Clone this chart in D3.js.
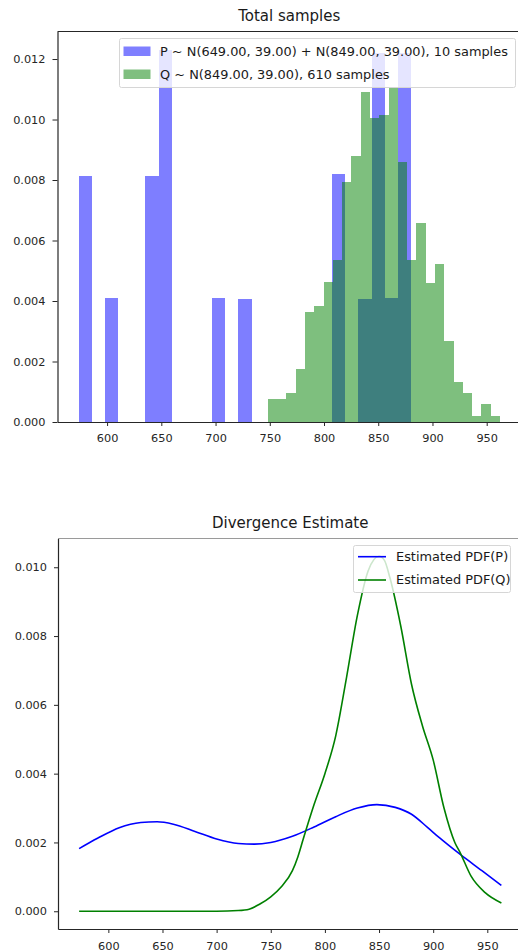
<!DOCTYPE html>
<html>
<head>
<meta charset="utf-8">
<script src="https://cdn.jsdelivr.net/npm/d3@7"></script>
<style>
  html, body { margin: 0; padding: 0; background: #fff; }
  svg { display: block; font-family: "DejaVu Sans", sans-serif; }
  .axis text { fill: #262626; font-size: 11.3px; font-family: "DejaVu Sans", sans-serif; }
  .axis line, .axis path { stroke: #262626; }
</style>
</head>
<body>
<svg id="chart" width="518" height="952"></svg>
<script>
// Histogram of P: bin edges and sample counts per bin
const pEdges = [573.7, 586.0, 598.3, 610.5, 622.8, 635.1, 647.4, 659.6, 671.9, 684.2, 696.5,
  708.7, 721.0, 733.3, 745.6, 757.9, 770.1, 782.4, 794.7, 807.0, 819.2, 831.5, 843.8,
  856.1, 868.3, 880.6];
const pCounts = [2, 0, 1, 0, 0, 2, 3, 0, 0, 0, 1, 0, 1, 0, 0, 0, 0, 0, 0, 2, 0, 1, 3, 1, 3];

// Histogram of Q: bin edges and sample counts per bin
const qEdges = [748.2, 756.8, 765.3, 773.9, 782.4, 791.0, 799.6, 808.1, 816.7, 825.2, 833.8,
  842.4, 850.9, 859.5, 868.0, 876.6, 885.2, 893.7, 902.3, 910.8, 919.4, 928.0, 936.5,
  945.1, 953.6, 962.2];
const qCounts = [4, 4, 5, 9, 19, 20, 24, 28, 41, 46, 57, 52, 53, 57, 45, 28, 34, 24, 27, 14, 7, 5, 1, 3, 1];

// Estimated densities (x, pdf)
const pdfPx = [573, 590, 610, 630, 645, 660, 680, 700, 720, 735, 750, 770, 790, 810, 830, 848,
  865, 880, 895, 906, 925, 945, 963];
const pdfPy = [0.00182, 0.00212, 0.00243, 0.00258, 0.00260, 0.00253, 0.00232, 0.00210, 0.00197,
  0.00195, 0.00200, 0.00218, 0.00245, 0.00275, 0.00300, 0.00310, 0.00302, 0.00282, 0.00243,
  0.00213, 0.00165, 0.00118, 0.00075];
const pdfQx = [573, 600, 650, 700, 720, 730, 740, 750, 760, 770, 775, 780, 790, 800, 810, 820,
  830, 840, 850, 855, 860, 870, 880, 890, 900, 910, 920, 925, 935, 948, 963];
const pdfQy = [0, 0, 0, 0, 0.00002, 0.00006, 0.00021, 0.00042, 0.00072, 0.00118, 0.00158, 0.0021,
  0.0031, 0.0040, 0.0051, 0.0068, 0.0086, 0.0099, 0.01032, 0.0102, 0.0097, 0.0083, 0.0066,
  0.0054, 0.0044, 0.0030, 0.0020, 0.0017, 0.00102, 0.00054, 0.00024];

const xTicks = [600, 650, 700, 750, 800, 850, 900, 950];
const yTicksTop = [0, 0.002, 0.004, 0.006, 0.008, 0.010, 0.012];
const yTicksBottom = [0, 0.002, 0.004, 0.006, 0.008, 0.010];

const titleTop = "Total samples";
const titleBottom = "Divergence Estimate";
const legendTop = ["P ~ N(649.00, 39.00) + N(849.00, 39.00), 10 samples",
                   "Q ~ N(849.00, 39.00), 610 samples"];
const legendBottom = ["Estimated PDF(P)", "Estimated PDF(Q)"];

const svg = d3.select("#chart");

// turn edges + counts into density bins
function toBins(edges, counts) {
  const total = d3.sum(counts);
  return counts.map((c, i) => ({
    x0: edges[i], x1: edges[i + 1],
    d: c / (total * (edges[i + 1] - edges[i]))
  }));
}
const pBins = toBins(pEdges, pCounts);
const qBins = toBins(qEdges, qCounts);

function padDomain(lo, hi) {
  const m = (hi - lo) * 0.05;
  return [lo - m, hi + m];
}

// ---------- upper panel: histograms ----------
const box1 = { left: 57.5, right: 521, top: 31.5, bottom: 422 };
const xLo = Math.min(pEdges[0], qEdges[0]);
const xHi = Math.max(pEdges[pEdges.length - 1], qEdges[qEdges.length - 1]);
const x1 = d3.scaleLinear().domain(padDomain(xLo, xHi)).range([box1.left, box1.right]);
const yMax1 = d3.max(pBins.concat(qBins), b => b.d) * 1.05;
const y1 = d3.scaleLinear().domain([0, yMax1]).range([box1.bottom, box1.top]);

const g1 = svg.append("g");
function drawBars(bins, color) {
  g1.append("g").attr("opacity", 0.5)
    .selectAll("rect").data(bins.filter(b => b.d > 0)).join("rect")
    .attr("shape-rendering", "crispEdges")
    .attr("x", b => x1(b.x0))
    .attr("width", b => x1(b.x1) - x1(b.x0))
    .attr("y", b => y1(b.d))
    .attr("height", b => y1(0) - y1(b.d))
    .attr("fill", color);
}
drawBars(pBins, "#0000ff");
drawBars(qBins, "#008000");

g1.append("g").attr("class", "axis")
  .attr("transform", `translate(0,${box1.bottom})`)
  .call(d3.axisBottom(x1).tickValues(xTicks).tickSize(4).tickPadding(8).tickSizeOuter(0))
  .call(a => a.select(".domain").attr("stroke-width", 1.2));
g1.append("g").attr("class", "axis")
  .attr("transform", `translate(${box1.left},0)`)
  .call(d3.axisLeft(y1).tickValues(yTicksTop).tickFormat(d3.format(".3f")).tickSize(5).tickPadding(7).tickSizeOuter(0))
  .call(a => a.select(".domain").attr("stroke-width", 1.2));
g1.append("line").attr("x1", box1.left).attr("x2", box1.right)
  .attr("y1", box1.top).attr("y2", box1.top).attr("stroke", "#262626").attr("stroke-width", 1);

svg.append("text").attr("x", (box1.left + box1.right) / 2).attr("y", 20.5)
  .attr("text-anchor", "middle").attr("font-size", 15).attr("fill", "#1a1a1a").text(titleTop);

// legend (upper)
const lg1 = svg.append("g");
lg1.append("rect").attr("x", 119.5).attr("y", 38.5).attr("width", 396).attr("height", 49)
  .attr("rx", 2).attr("fill", "#fff").attr("fill-opacity", 0.8).attr("stroke", "#d6d6d6");
[["#0000ff", 0], ["#008000", 1]].forEach(([c, i]) => {
  lg1.append("rect").attr("x", 123.5).attr("y", 46.5 + i * 23).attr("width", 27).attr("height", 9.5)
    .attr("fill", c).attr("opacity", 0.5);
  lg1.append("text").attr("x", 160).attr("y", 56 + i * 23)
    .attr("font-size", 12.9).attr("fill", "#1a1a1a").text(legendTop[i]);
});

// ---------- lower panel: density estimates ----------
const box2 = { left: 58, right: 522.5, top: 538.5, bottom: 929 };
const x2 = d3.scaleLinear()
  .domain(padDomain(d3.min(pdfPx.concat(pdfQx)), d3.max(pdfPx.concat(pdfQx))))
  .range([box2.left, box2.right]);
const allY = pdfPy.concat(pdfQy);
const y2 = d3.scaleLinear().domain(padDomain(d3.min(allY), d3.max(allY))).range([box2.bottom, box2.top]);

const g2 = svg.append("g");
const line = d3.line().x(d => x2(d[0])).y(d => y2(d[1])).curve(d3.curveMonotoneX);
g2.append("path").datum(d3.zip(pdfPx, pdfPy)).attr("d", line)
  .attr("fill", "none").attr("stroke", "#0000ff").attr("stroke-width", 1.6);
g2.append("path").datum(d3.zip(pdfQx, pdfQy)).attr("d", line)
  .attr("fill", "none").attr("stroke", "#008000").attr("stroke-width", 1.6);

g2.append("g").attr("class", "axis")
  .attr("transform", `translate(0,${box2.bottom})`)
  .call(d3.axisBottom(x2).tickValues(xTicks).tickSize(4).tickPadding(9).tickSizeOuter(0))
  .call(a => a.select(".domain").attr("stroke-width", 1.2));
g2.append("g").attr("class", "axis")
  .attr("transform", `translate(${box2.left},0)`)
  .call(d3.axisLeft(y2).tickValues(yTicksBottom).tickFormat(d3.format(".3f")).tickSize(4).tickPadding(7).tickSizeOuter(0))
  .call(a => a.select(".domain").attr("stroke-width", 1.2));
g2.append("line").attr("x1", box2.left).attr("x2", box2.right)
  .attr("y1", box2.top).attr("y2", box2.top).attr("stroke", "#9a9a9a").attr("stroke-width", 1);

svg.append("text").attr("x", (box2.left + box2.right) / 2).attr("y", 527.5)
  .attr("text-anchor", "middle").attr("font-size", 15).attr("fill", "#1a1a1a").text(titleBottom);

// legend (lower)
const lg2 = svg.append("g");
lg2.append("rect").attr("x", 353.5).attr("y", 545.5).attr("width", 157).attr("height", 47)
  .attr("rx", 2).attr("fill", "#fff").attr("fill-opacity", 0.8).attr("stroke", "#d6d6d6");
[["#0000ff", 0], ["#008000", 1]].forEach(([c, i]) => {
  lg2.append("line").attr("x1", 358).attr("x2", 386)
    .attr("y1", 556.7 + i * 23.3).attr("y2", 556.7 + i * 23.3)
    .attr("stroke", c).attr("stroke-width", 1.6);
  lg2.append("text").attr("x", 396).attr("y", 561 + i * 23.3)
    .attr("font-size", 12.9).attr("fill", "#1a1a1a").text(legendBottom[i]);
});
</script>
</body>
</html>
